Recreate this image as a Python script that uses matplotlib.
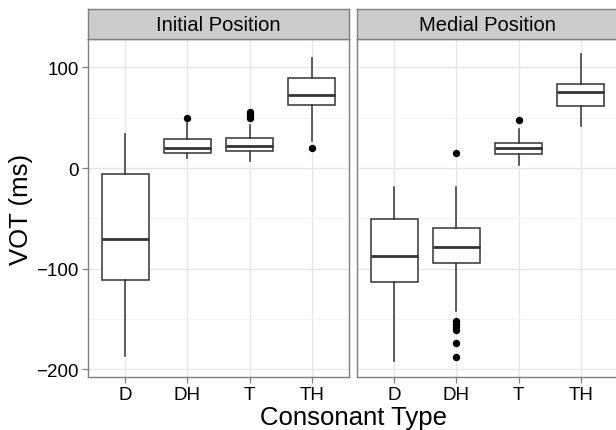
import numpy as np
import matplotlib
matplotlib.use("Agg")
from matplotlib import pyplot as plt

plt.rcParams['font.family'] = ['Liberation Sans', 'DejaVu Sans']

# Data (VOT in ms)
categories = ["D", "DH", "T", "TH"]
panels = ["Initial Position", "Medial Position"]

initial_whislo = [-187, 10, 7, 27]
initial_q1 = [-111, 15, 17, 63]
initial_med = [-70, 20.5, 22, 72.5]
initial_q3 = [-6, 29, 29.5, 89.5]
initial_whishi = [34, 45, 43, 109.5]
initial_fliers = [[], [49.5], [50, 52, 54, 56], [20]]

medial_whislo = [-192, -142, 3.5, 42]
medial_q1 = [-113.5, -94.5, 14, 61.5]
medial_med = [-87, -78, 20, 76]
medial_q3 = [-51, -59, 25, 84]
medial_whishi = [-18.5, -18.5, 38.5, 113]
medial_fliers = [[], [15.5, -151.5, -155, -158, -160.5, -173.5, -188], [48], []]

W, H = 616, 431
PANEL_W = 261
PANEL_TOP, PANEL_BOTTOM = 40, 378
STRIP_TOP = 10
LEFTS = [88, 357]

BOX_COL = "#333333"
GRID_MAJOR = "#E6E6E6"
GRID_MINOR = "#F4F4F4"
EDGE = "#7F7F7F"


def make_stats(whislo, q1, med, q3, whishi, fliers):
    stats = []
    for i in range(len(categories)):
        stats.append(dict(whislo=whislo[i], q1=q1[i], med=med[i], q3=q3[i],
                          whishi=whishi[i], fliers=np.array(fliers[i])))
    return stats


def main():
    fig = plt.figure(figsize=(W / 100, H / 100), dpi=100)

    all_stats = [
        make_stats(initial_whislo, initial_q1, initial_med, initial_q3, initial_whishi, initial_fliers),
        make_stats(medial_whislo, medial_q1, medial_med, medial_q3, medial_whishi, medial_fliers),
    ]

    for k, left in enumerate(LEFTS):
        ax = fig.add_axes([left / W, (H - PANEL_BOTTOM) / H, PANEL_W / W,
                           (PANEL_BOTTOM - PANEL_TOP) / H])
        ax.bxp(all_stats[k], positions=range(1, 5), widths=0.75, showcaps=False,
               patch_artist=True,
               boxprops=dict(facecolor="white", edgecolor=BOX_COL, linewidth=1.1),
               medianprops=dict(color=BOX_COL, linewidth=2.0),
               whiskerprops=dict(color=BOX_COL, linewidth=1.1),
               flierprops=dict(marker="o", markerfacecolor="black",
                               markeredgecolor="black", markersize=4.3))
        ax.set_xlim(0.4, 4.6)
        ax.set_ylim(-207.5, 128.3)
        ax.set_xticks(range(1, 5))
        ax.set_xticklabels(categories)
        ax.set_yticks([-200, -100, 0, 100])
        ax.set_yticklabels(["\u2212200", "\u2212100", "0", "100"])
        ax.set_yticks([-150, -50, 50], minor=True)
        ax.set_axisbelow(True)
        ax.grid(True, which="major", color=GRID_MAJOR, linewidth=1.0)
        ax.grid(True, which="minor", axis="y", color=GRID_MINOR, linewidth=0.8)
        ax.tick_params(which="major", length=4.5, width=0.9, color=EDGE,
                       labelsize=13.5, labelcolor="black", pad=2)
        ax.tick_params(which="minor", length=0)
        if k == 1:
            ax.tick_params(axis="y", which="major", left=False, labelleft=False)
        for sp in ax.spines.values():
            sp.set_color(EDGE)
            sp.set_linewidth(1.0)

        # facet strip
        sax = fig.add_axes([left / W, (H - PANEL_TOP) / H, PANEL_W / W,
                            (PANEL_TOP - STRIP_TOP) / H])
        sax.set_facecolor("#CCCCCC")
        sax.set_xticks([])
        sax.set_yticks([])
        for sp in sax.spines.values():
            sp.set_color(EDGE)
            sp.set_linewidth(1.0)
        sax.text(0.5, 0.47, panels[k], ha="center", va="center",
                 fontsize=14.5, transform=sax.transAxes)

    fig.text(353.5 / W, (H - 425.5) / H, "Consonant Type", ha="center",
             va="baseline", fontsize=18.5)
    fig.text(21 / W, 1 - 209 / H, "VOT (ms)", ha="center", va="center",
             rotation=90, fontsize=18.5)

    fig.savefig("out.png", dpi=100)
    plt.close(fig)


if __name__ == "__main__":
    main()
